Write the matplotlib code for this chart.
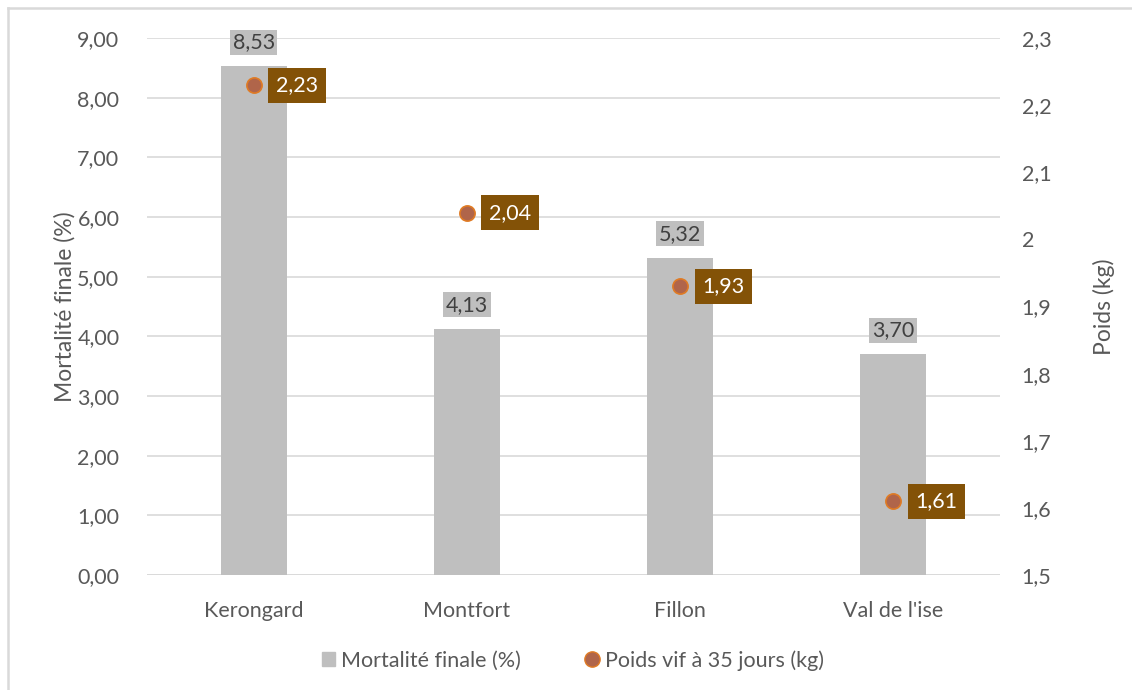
import matplotlib.pyplot as plt
from matplotlib.patches import Rectangle
from matplotlib.lines import Line2D
import numpy as np

plt.rcParams['font.family'] = ['Lato', 'DejaVu Sans']

sites = ['Kerongard', 'Montfort', 'Fillon', "Val de l'ise"]
mortalite = [8.53, 4.13, 5.32, 3.70]
poids = [2.23, 2.04, 1.93, 1.61]

txt = '#595959'
grid = '#D9D9D9'
bar_col = '#BFBFBF'
brown = '#835207'
fs = 15.5

fig = plt.figure(figsize=(11.32, 6.9), dpi=100)
# chart frame: only left and top edges show
fig.add_artist(Line2D([0.0068, 0.0068], [0.0, 0.988], transform=fig.transFigure,
                      color='#D9D9D9', linewidth=1.8))
fig.add_artist(Line2D([0.0068, 1.0], [0.988, 0.988], transform=fig.transFigure,
                      color='#D9D9D9', linewidth=1.8))
ax = fig.add_axes([0.130, 0.1667, 0.753, 0.778])
ax2 = ax.twinx()

x = np.arange(len(sites))
ax.bar(x, mortalite, width=0.31, color=bar_col, zorder=2)
ax.set_xlim(-0.5, 3.5)
ax.set_ylim(0, 9)
ax.set_yticks(np.arange(0, 10, 1))
ax.set_yticklabels([('%.2f' % v).replace('.', ',') for v in np.arange(0, 10, 1)])
ax.yaxis.grid(True, color=grid, linewidth=1.2, zorder=0)
ax.set_axisbelow(True)
ax.set_xticks(x)
ax.set_xticklabels(sites)
for s in ax.spines.values():
    s.set_visible(False)
for s in ax2.spines.values():
    s.set_visible(False)
ax.axhline(0, color=grid, linewidth=1.2, zorder=1)
ax.tick_params(axis='both', length=0, labelsize=fs, colors=txt, pad=20)
ax.tick_params(axis='x', pad=19)
ax.set_ylabel('Mortalité finale (%)', fontsize=fs + 1, color=txt, labelpad=1)

for xi, v in zip(x, mortalite):
    ax.text(xi, v + 0.4, ('%.2f' % v).replace('.', ','), ha='center', va='center',
            fontsize=fs, color='#404040', zorder=4,
            bbox=dict(boxstyle='square,pad=0.12', facecolor=bar_col, edgecolor='none'))

ax2.set_ylim(1.5, 2.3)
rt = np.round(np.arange(1.5, 2.31, 0.1), 1)
ax2.set_yticks(rt)
ax2.set_yticklabels([('%g' % v).replace('.', ',') for v in rt])
ax2.tick_params(axis='y', length=0, labelsize=fs, colors=txt, pad=16)
ax2.set_ylabel('Poids (kg)', fontsize=fs + 1, color=txt, labelpad=30)
ax2.scatter(x, poids, s=120, color='#B0654A', edgecolors='#E07B24', linewidths=1.2, zorder=5)
for xi, v in zip(x, poids):
    ax2.annotate(('%.2f' % v).replace('.', ','), xy=(xi, v), xytext=(16, 0),
                 textcoords='offset points', ha='left', va='center', fontsize=fs,
                 color='white', zorder=6,
                 bbox=dict(boxstyle='square,pad=0.35', facecolor=brown, edgecolor='none'))

h1 = Rectangle((0, 0), 1, 1, color=bar_col)
h2 = Line2D([], [], marker='o', linestyle='none', markersize=11,
            markerfacecolor='#B0654A', markeredgecolor='#E07B24')
fig.legend([h1, h2], ['Mortalité finale (%)', 'Poids vif à 35 jours (kg)'],
           loc='center', bbox_to_anchor=(0.506, 0.043), ncol=2, frameon=False,
           fontsize=fs, labelcolor=txt, handlelength=0.6, handleheight=0.6,
           handletextpad=0.3, columnspacing=3)

fig.savefig('out.png', dpi=100)
